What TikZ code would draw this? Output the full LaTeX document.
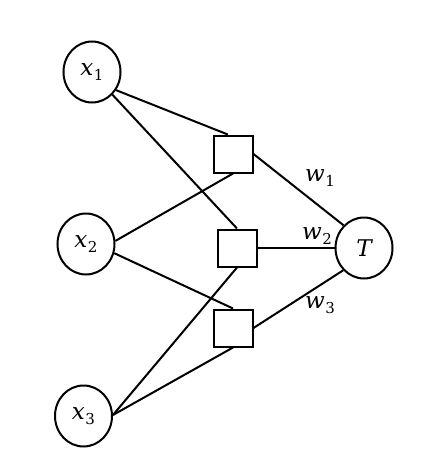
\documentclass[tikz,border=0pt]{standalone}
\usepackage{fontspec}
\setmainfont{DejaVu Serif}
\usetikzlibrary{shapes.geometric}
\newcommand{\sublab}[2]{{\itshape #1}\kern0.5pt{\fontsize{15}{17}\selectfont\raisebox{-4.5pt}{#2}}}
\begin{document}
\begin{tikzpicture}[x=1pt,y=-1pt]
\tikzset{
  every node/.style={font=\fontsize{23}{27}\selectfont},
  var/.style={ellipse,draw,line width=2pt,minimum width=57pt,minimum height=61pt,inner sep=0pt},
  gate/.style={rectangle,draw,line width=2pt,minimum width=39pt,minimum height=37pt,inner sep=0pt},
  wire/.style={line width=2pt},
  wlabel/.style={inner sep=0pt}}
\useasboundingbox (0,0) rectangle (430,476);
\node[var] (x1) at (92,72) {\sublab{x}{1}};
\node[var] (x2) at (86,244) {\sublab{x}{2}};
\node[var] (x3) at (83.5,416) {\sublab{x}{3}};
\node[var] (T) at (364,248) {\itshape T};
\node[gate] (b1) at (233,154) {};
\node[gate] (b2) at (237,248) {};
\node[gate] (b3) at (233,328) {};
\draw[wire] (x1.-37.6) -- (b1.105);
\draw[wire] (x1.-48.5) -- (b2.north);
\draw[wire] (x2.6) -- (b1.south);
\draw[wire] (x2.-18) -- (b3.north);
\draw[wire] (x3.2) -- (b2.south);
\draw[wire] (x3.2) -- (b3.south);
\draw[wire] (b1.east) -- (T.132);
\draw[wire] (b2.east) -- (T.west);
\draw[wire] (b3.east) -- (T.227);
\node[wlabel] (w1) at (320,178) {\sublab{w}{1}};
\node[wlabel] (w2) at (317,236) {\sublab{w}{2}};
\node[wlabel] (w3) at (320,305) {\sublab{w}{3}};
\end{tikzpicture}
\end{document}
